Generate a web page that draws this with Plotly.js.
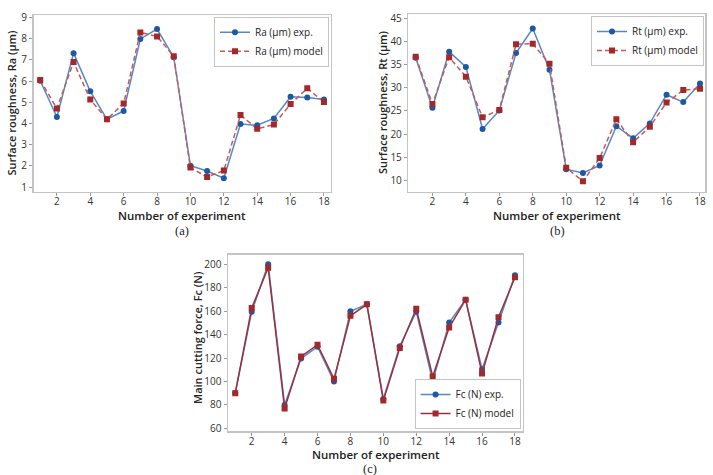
<!DOCTYPE html>
<html>
<head>
<meta charset="utf-8">
<script src="https://cdn.plot.ly/plotly-3.0.1.min.js"></script>
<style>html,body{margin:0;padding:0;background:#fff;} #chart{width:713px;height:475px;}</style>
</head>
<body>
<div id="chart"></div>
<script>
// Data
const experiments = [1,2,3,4,5,6,7,8,9,10,11,12,13,14,15,16,17,18];
const raExp   = [6.02,4.31,7.32,5.52,4.20,4.59,7.99,8.46,7.13,2.01,1.76,1.42,3.98,3.92,4.24,5.26,5.23,5.13];
const raModel = [6.05,4.71,6.90,5.13,4.20,4.95,8.30,8.11,7.18,1.92,1.48,1.78,4.40,3.75,3.95,4.92,5.66,5.01];
const rtExp   = [36.5,25.7,37.8,34.5,21.1,25.1,37.5,42.8,33.9,12.4,11.6,13.2,21.7,19.1,22.3,28.5,26.9,30.9];
const rtModel = [36.7,26.5,36.6,32.4,23.6,25.2,39.4,39.5,35.2,12.7,9.8,14.8,23.2,18.2,21.6,26.8,29.5,29.8];
const fcExp   = [90.2,159.5,200,80,119.5,129.6,100,159.8,165.8,85.1,130.1,159.5,100,150.2,169.8,110.5,150.2,190.6];
const fcModel = [90,162.6,197,77,121.3,131.3,102.2,156,165.8,83.7,128.5,162,104.3,146,169.8,106.8,154.7,188.9];
const xTicks = [2,4,6,8,10,12,14,16,18];
const xTitle = 'Number of experiment';
const yTitles = ['Surface roughness, Ra (μm)', 'Surface roughness, Rt (μm)', 'Main cutting force, Fc (N)'];
const captions = ['(a)', '(b)', '(c)'];

const blueLine = '#5688c8', blueMark = '#1c58a3';
const redLine = '#c65a57', redMark = '#a3282a';
const FONT = 'Open Sans, Noto Sans, sans-serif';

function expTrace(y, name, xa, ya, lg) {
  return {x: experiments, y: y, name: name, type: 'scatter', mode: 'lines+markers',
    xaxis: xa, yaxis: ya, legend: lg,
    line: {color: blueLine, width: 1.5},
    marker: {symbol: 'circle', size: 6, color: blueMark}};
}
function modelTrace(y, name, xa, ya, lg, dash) {
  return {x: experiments, y: y, name: name, type: 'scatter', mode: 'lines+markers',
    xaxis: xa, yaxis: ya, legend: lg,
    line: {color: dash ? redLine : '#9e2f3a', width: 1.5, dash: dash ? '5px,3px' : 'solid'},
    marker: {symbol: 'square', size: 6, color: redMark}};
}

const traces = [
  expTrace(raExp, 'Ra (μm) exp.', 'x', 'y', 'legend'),
  modelTrace(raModel, 'Ra (μm) model', 'x', 'y', 'legend', true),
  expTrace(rtExp, 'Rt (μm) exp.', 'x2', 'y2', 'legend2'),
  modelTrace(rtModel, 'Rt (μm) model', 'x2', 'y2', 'legend2', true),
  expTrace(fcExp, 'Fc (N) exp.', 'x3', 'y3', 'legend3'),
  modelTrace(fcModel, 'Fc (N) model', 'x3', 'y3', 'legend3', false)
];

function xAxis(domain, anchor, range) {
  return {domain: domain, anchor: anchor, range: range, tickvals: xTicks,
    showline: true, mirror: true, linecolor: '#c4c4c4', linewidth: 1.5,
    showgrid: false, zeroline: false, ticks: 'outside', ticklen: 3, tickcolor: '#999',
    ticklabelstandoff: -3,
    tickfont: {family: FONT, size: 10, color: '#333'},
    automargin: false};
}
function yAxis(domain, anchor, range, dtick) {
  return {domain: domain, anchor: anchor, range: range, dtick: dtick, tick0: 0,
    showline: true, mirror: true, linecolor: '#c4c4c4', linewidth: 1.5,
    showgrid: false, zeroline: false, ticks: 'outside', ticklen: 3, tickcolor: '#999',
    tickfont: {family: FONT, size: 10, color: '#333'},
    automargin: false};
}

function legendCfg(x, y, yanchor) {
  return {x: x, y: y, xanchor: 'right', yanchor: yanchor,
    bgcolor: '#fff', bordercolor: '#c4c4c4', borderwidth: 1,
    font: {family: FONT, size: 10, color: '#222'},
    itemwidth: 30, tracegroupgap: 0};
}

const titleFont = {family: FONT, size: 11.5, color: '#222', weight: 600};
function paperText(text, px, py, opts) {
  return Object.assign({text: text, x: px / 713, y: 1 - py / 475, xref: 'paper', yref: 'paper',
    showarrow: false, xanchor: 'center', yanchor: 'middle', font: titleFont}, opts || {});
}
const capFont = {family: 'Liberation Serif, DejaVu Serif, serif', size: 12.5, color: '#222'};
const yTitleFont = Object.assign({}, titleFont, {size: 11});

const layout = {
  width: 713, height: 475,
  margin: {l: 0, r: 0, t: 0, b: 0},
  paper_bgcolor: '#fff', plot_bgcolor: '#fff',
  showlegend: true,
  xaxis:  xAxis([0.047, 0.4642], 'y', [0.6, 18.42]),
  yaxis:  yAxis([0.5958, 0.9684], 'x', [0.77, 9.12], 1),
  xaxis2: xAxis([0.5727, 0.9888], 'y2', [0.56, 18.3]),
  yaxis2: yAxis([0.5964, 0.9705], 'x2', [7.54, 45.93], 5),
  xaxis3: xAxis([0.3198, 0.7331], 'y3', [0.56, 18.47]),
  yaxis3: yAxis([0.0926, 0.4632], 'x3', [57.7, 207.9], 20),
  legend:  legendCfg(0.4614, 0.9648, 'top'),
  legend2: legendCfg(0.9874, 0.9663, 'top'),
  legend3: legendCfg(0.7301, 0.0968, 'bottom'),
  annotations: [
    paperText(xTitle, 182, 215),
    paperText(xTitle, 557, 215),
    paperText(xTitle, 376, 454.5),
    paperText(yTitles[0], 11, 103.5, {textangle: -90, font: yTitleFont}),
    paperText(yTitles[1], 383, 102, {textangle: -90, font: yTitleFont}),
    paperText(yTitles[2], 197, 338, {textangle: -90, font: yTitleFont}),
    paperText(captions[0], 182, 231, {font: capFont}),
    paperText(captions[1], 557, 231, {font: capFont}),
    paperText(captions[2], 370, 468.5, {font: capFont})
  ]
};

Plotly.newPlot('chart', traces, layout, {displayModeBar: false, staticPlot: true});
</script>
</body>
</html>
